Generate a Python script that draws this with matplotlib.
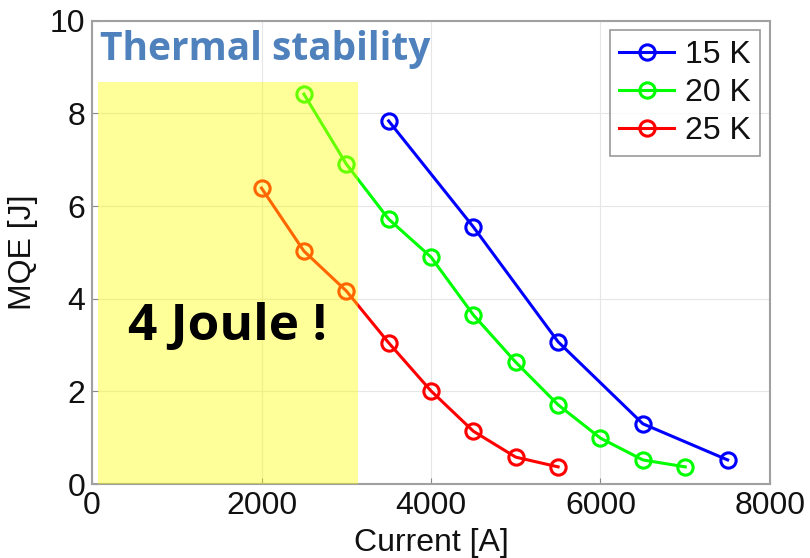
import matplotlib
matplotlib.use("Agg")
import matplotlib.pyplot as plt
from matplotlib.patches import Rectangle

i15 = [3500, 4500, 5500, 6500, 7500]
q15 = [7.84, 5.55, 3.07, 1.30, 0.52]
i20 = [2500, 3000, 3500, 4000, 4500, 5000, 5500, 6000, 6500, 7000]
q20 = [8.42, 6.91, 5.72, 4.90, 3.65, 2.63, 1.71, 0.99, 0.52, 0.37]
i25 = [2000, 2500, 3000, 3500, 4000, 4500, 5000, 5500]
q25 = [6.39, 5.03, 4.17, 3.05, 2.01, 1.14, 0.58, 0.37]
labels = ["15 K", "20 K", "25 K"]
xticks = [0, 2000, 4000, 6000, 8000]
yticks = [0, 2, 4, 6, 8, 10]

plt.rcParams['font.family'] = ['Liberation Sans', 'DejaVu Sans']
fig = plt.figure(figsize=(8.1, 5.58), dpi=100)
ax = fig.add_axes([0.1136, 0.1326, 0.837, 0.830])

style = dict(marker='o', markersize=11, markerfacecolor='none', markeredgewidth=2.2, linewidth=2.2)
ax.plot(i15, q15, color='#0000ff', label=labels[0], **style)
ax.plot(i20, q20, color='#00ff00', label=labels[1], **style)
ax.plot(i25, q25, color='#ff0000', label=labels[2], **style)

ax.add_patch(Rectangle((70, 0), 3070, 8.68, facecolor='#ffff00', alpha=0.4,
                       edgecolor='none', zorder=5))

ax.set_xlim(0, 8000)
ax.set_ylim(0, 10)
ax.set_xticks(xticks)
ax.set_yticks(yticks)
ax.tick_params(direction='in', length=4, width=0.8, color='#888888', labelsize=23,
               labelcolor='#111111', pad=5)
ax.grid(True, color='#e6e6e6', linewidth=0.8)
ax.set_axisbelow(True)
for s in ax.spines.values():
    s.set_color('#a0a0a0')
    s.set_linewidth(1.5)
ax.set_xlabel("Current [A]", fontsize=23, labelpad=5, color='#111111')
ax.set_ylabel("MQE [J]", fontsize=23, labelpad=8, color='#111111')

leg = ax.legend(loc='upper right', fontsize=23, frameon=True, fancybox=False,
                edgecolor='#808080', handlelength=1.7, borderpad=0.3,
                labelspacing=0.25, handletextpad=0.35, borderaxespad=0.3)
leg.get_frame().set_linewidth(1.2)
for t in leg.get_texts():
    t.set_color('#111111')

ax.text(100, 9.8, "Thermal stability", fontsize=28, fontweight='bold', color='#4f81bd',
        family='Open Sans', va='top', ha='left', zorder=6)
ax.text(430, 3.4, "4 Joule !", fontsize=37, fontweight='bold', color='black',
        family='Open Sans', va='center', ha='left', zorder=6)

fig.savefig("out.png", dpi=100)
